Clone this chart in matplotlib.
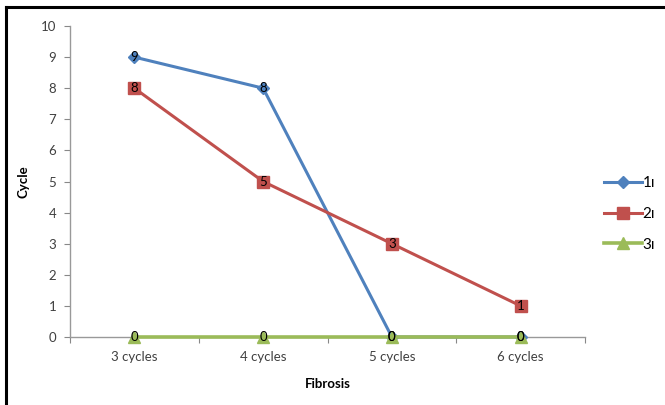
import matplotlib
matplotlib.use("Agg")
import matplotlib.pyplot as plt
from matplotlib.lines import Line2D

categories = ["3 cycles", "4 cycles", "5 cycles", "6 cycles"]
series_names = ["1\u0131", "2\u0131", "3\u0131"]
s1 = [9, 8, 0, 0]
s2 = [8, 5, 3, 1]
s3 = [0, 0, 0, 0]

plt.rcParams['font.family'] = ['Lato', 'DejaVu Sans']

fig = plt.figure(figsize=(6.65, 4.05), dpi=100)
ax = fig.add_axes([70/665, 1-337/405, 515/665, 311/405])

x = range(len(categories))
ax.plot(x, s1, color='#4F81BD', lw=2.2, marker='D', ms=6, label=series_names[0], zorder=3, clip_on=False)
ax.plot(x, s2, color='#C0504D', lw=2.2, marker='s', ms=9, label=series_names[1], zorder=3, clip_on=False)
ax.plot(x, s3, color='#9BBB59', lw=2.6, marker='^', ms=8, label=series_names[2], zorder=4, clip_on=False)

# data labels centred on the markers
for vals, z in ((s1, 5), (s2, 5), (s3, 6)):
    for i, v in enumerate(vals):
        ax.text(i, v, str(v), ha='center', va='center', fontsize=9.5, color='black', zorder=z)

ax.set_xlim(-0.5, 3.5)
ax.set_ylim(0, 10)
ax.set_yticks(range(0, 11))
ax.tick_params(axis='y', direction='out', length=4, color='#888888', labelsize=9.5,
               labelcolor='#404040', pad=6)
ax.set_xticks([i - 0.5 for i in range(5)], minor=False)
ax.set_xticklabels([])
ax.set_xticks(list(x), minor=True)
ax.set_xticklabels(categories, minor=True)
ax.tick_params(axis='x', which='major', direction='out', length=4, color='#888888')
ax.tick_params(axis='x', which='minor', length=0, labelsize=9.5, labelcolor='#404040', pad=10)

for side in ('top', 'right'):
    ax.spines[side].set_visible(False)
for side in ('left', 'bottom'):
    ax.spines[side].set_color('#999999')
    ax.spines[side].set_linewidth(1)

ax.set_ylabel("Cycle", fontsize=9.5, fontweight='bold', labelpad=8)
ax.set_xlabel("Fibrosis", fontsize=9.5, fontweight='bold', labelpad=11)

handles = [Line2D([], [], color='#4F81BD', lw=2.2, marker='D', ms=6),
           Line2D([], [], color='#C0504D', lw=2.2, marker='s', ms=9),
           Line2D([], [], color='#9BBB59', lw=2.6, marker='^', ms=8)]
fig.legend(handles, series_names, loc='center left', bbox_to_anchor=(590/665, 1-214/405),
           frameon=False, fontsize=11, handlelength=2.5, handletextpad=0.05, labelspacing=1.1)

# frame edges of the cropped picture
fig.add_artist(Line2D([6/665, 1], [1-7/405, 1-7/405], color='black', lw=2.2, transform=fig.transFigure))
fig.add_artist(Line2D([6/665, 6/665], [0, 1-7/405], color='black', lw=2.2, transform=fig.transFigure))

fig.savefig("out.png", dpi=100)
